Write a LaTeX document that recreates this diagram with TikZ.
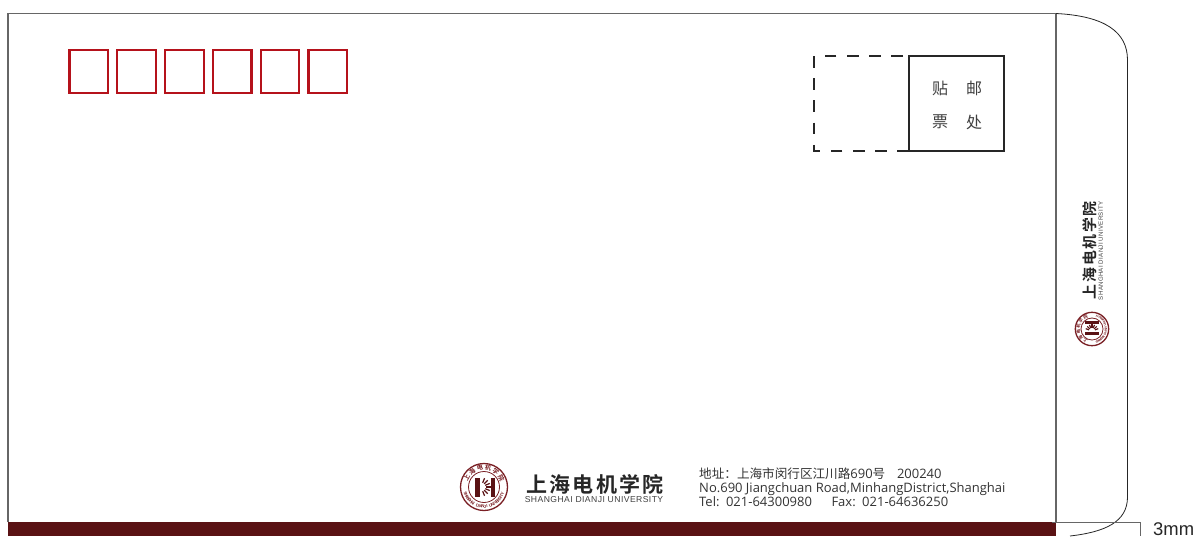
\documentclass[tikz,border=0pt]{standalone}
\usepackage{fontspec}
\setmainfont{Open Sans}
\newfontfamily\cjk{Noto Sans CJK SC}[BoldFont={Noto Sans CJK SC Bold}]
\newfontfamily\engspaced{Liberation Sans}[LetterSpace=5]
\newfontfamily\labelfont{Liberation Sans}
\definecolor{barred}{HTML}{5A1214}
\definecolor{boxred}{HTML}{B5121B}
\definecolor{sealred}{HTML}{7A2025}
\definecolor{linegray}{HTML}{666666}
\definecolor{txtgray}{HTML}{333333}
\tikzset{
  outline/.style={draw=linegray,line width=1.1pt},
  flapline/.style={draw=black!85,line width=.8pt},
  codebox/.style={draw=boxred,line width=2.2pt,fill=white},
  stampline/.style={draw=black!85,line width=1.4pt},
  stampdash/.style={stampline,dash pattern=on 11.8pt off 10.4pt},
  stamptxt/.style={font=\cjk\fontsize{16}{16}\selectfont,text=black!75,inner sep=0pt},
  addr/.style={anchor=base west,inner sep=0pt,text=txtgray,font=\fontsize{13}{13}\selectfont},
  sealchar/.style={inner sep=0pt,text=sealred,transform shape},
}
\newcommand{\schoollogo}{%
  \draw[sealred,line width=1.3pt] (0,0) circle (23.5);
  \draw[sealred,line width=.8pt] (0,0) circle (15.5);
  \foreach \c [count=\i] in {上,海,电,机,学,院}
    \path[rotate={62-(\i-1)*24.8}] (0,19.6) node[sealchar,font=\cjk\bfseries\fontsize{6.2}{6}\selectfont] {\c};
  \foreach \c [count=\i] in {S,H,A,N,G,H,A,I,{ },D,I,A,N,J,I,{ },U,N,I,V,E,R,S,I,T,Y}
    \path[rotate={-70+(\i-1)*5.6}] (0,-19.6) node[sealchar,font=\labelfont\bfseries\fontsize{4.2}{4}\selectfont] {\c};
  \fill[barred] (-9,-9.5) rectangle (-4.5,9.5);
  \fill[barred] (7,-9.5) rectangle (11,9.5);
  \foreach \a in {-68,-45,-22,0,22,45,68}
    \draw[barred,line width=1.2pt] ({-3+4.5*cos(\a)},{4.5*sin(\a)}) -- ({-3+9.5*cos(\a)},{9.5*sin(\a)});
  \node[inner sep=0pt,text=black!85,transform shape,
    font=\cjk\bfseries\fontsize{21}{21}\selectfont] at (111,3) {上\kern2.4pt 海\kern2.4pt 电\kern2.4pt 机\kern2.4pt 学\kern2.4pt 院};
  \node[inner sep=0pt,text=black!75,transform shape,
    font=\engspaced\fontsize{8.6}{9}\selectfont] at (110,-12.3) {SHANGHAI DIANJI UNIVERSITY};
}
\begin{document}
\begin{tikzpicture}[x=1pt,y=-1pt]
\useasboundingbox[fill=white] (0,0) rectangle (1195,536);
% bar
\fill[barred] (8,522) rectangle (1056,536);
% envelope outline
\draw[outline] (8,522) -- (8,13.5) -- (1056,13.5) -- (1056,522);
% flap
\draw[flapline] (1056,13.5) .. controls (1105,16) and (1127.5,32) .. (1127.5,60)
  -- (1127.5,497) .. controls (1127.5,522) and (1105,532) .. (1070,536);
% 3mm bracket
\draw[outline] (1052,522.5) -- (1140.5,522.5) -- (1140.5,536);
\node[anchor=base west,inner sep=0pt,font=\labelfont\fontsize{18.4}{18}\selectfont,text=black!85] (mm) at (1153,535.7) {3mm};
% code boxes
\foreach \x in {69.5,117.3,165.1,212.9,260.7,308.5}
  \draw[codebox] (\x,50) rectangle ++(38.5,43);
% stamp
\draw[stampdash] (903,56) -- (824,56);
\draw[stampdash] (814,56) -- (814,151) -- (820,151);
\draw[stampdash] (909,151) -- (830,151);
\draw[stampline] (909,56) rectangle (1004,151);
\node[stamptxt] (s1) at (940,88) {贴};
\node[stamptxt] (s2) at (974,88) {邮};
\node[stamptxt] (s3) at (940,122) {票};
\node[stamptxt] (s4) at (974,122) {处};
% logos
\begin{scope}[shift={(484,487)},y=1pt]
\schoollogo
\end{scope}
\begin{scope}[shift={(1092,329)},rotate=90,scale=.71,y=1pt]
\schoollogo
\end{scope}
% address
\node[addr] (a1) at (699,478) {{\cjk\fontsize{12.6}{13}\selectfont 地址：上海市闵行区江川路}690{\cjk\fontsize{12.6}{13}\selectfont 号}\hspace{.9em}200240};
\node[addr] (a2) at (699,492) {No.690 Jiangchuan Road,MinhangDistrict,Shanghai};
\node[addr] (a3) at (699,506) {Tel:\hspace{.5em}021-64300980\hspace{1.5em}Fax:\hspace{.5em}021-64636250};
\end{tikzpicture}
\end{document}
